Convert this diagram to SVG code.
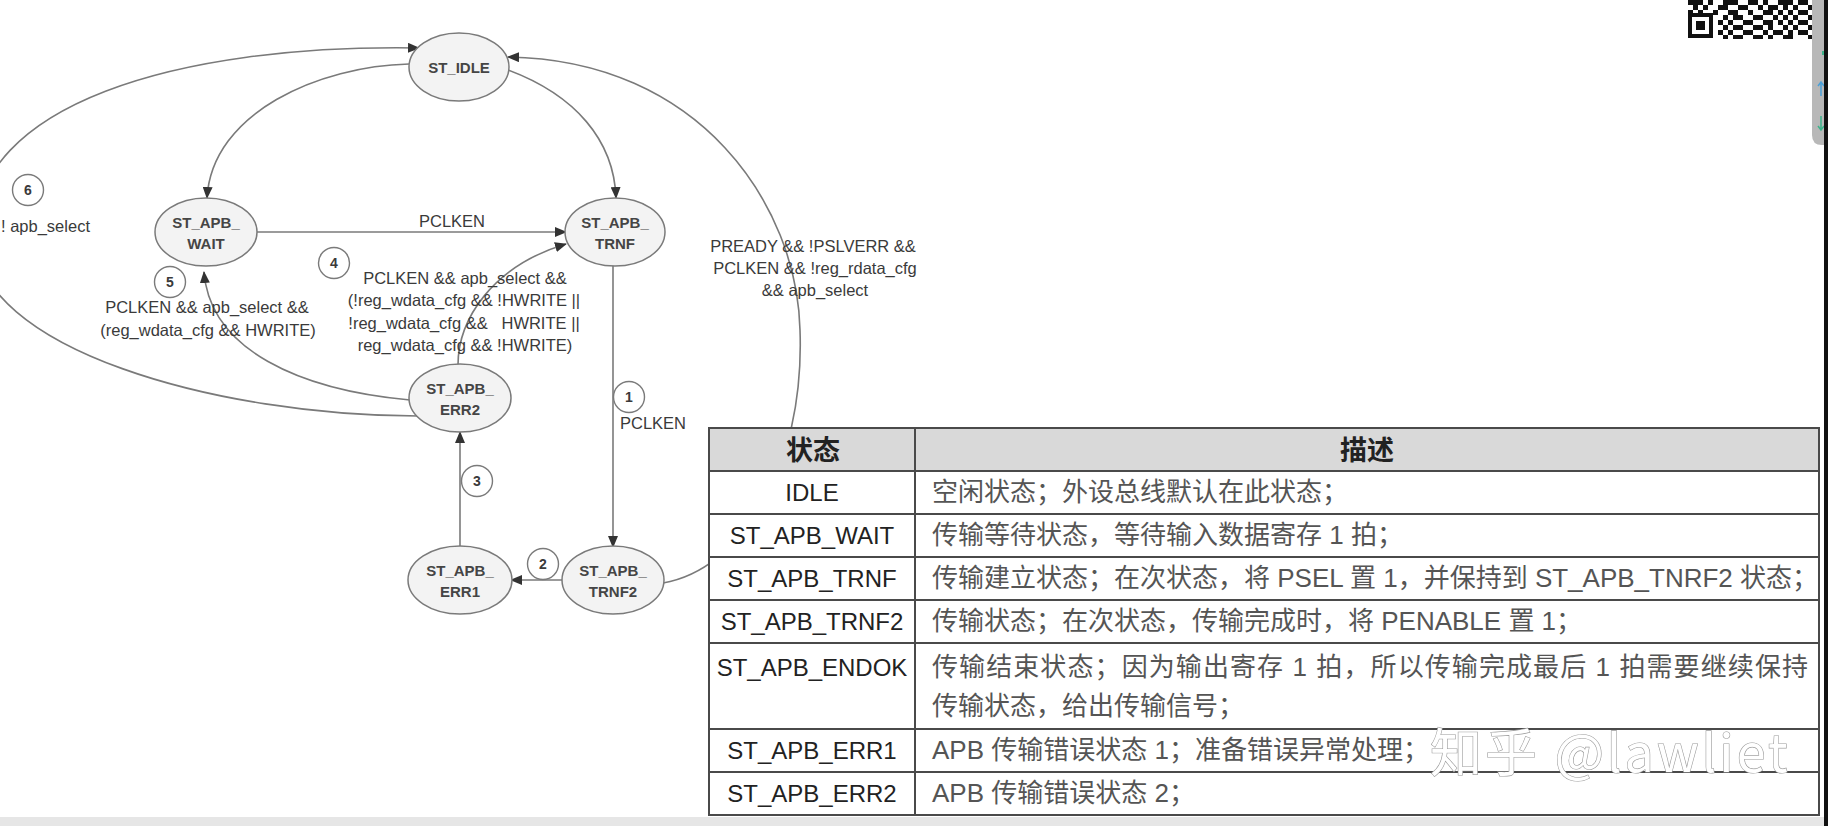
<svg xmlns="http://www.w3.org/2000/svg" width="1828" height="826" viewBox="0 0 1828 826">
<defs>
<marker id="ah" viewBox="0 0 12 10" refX="11" refY="5" markerWidth="12" markerHeight="10" markerUnits="userSpaceOnUse" orient="auto">
<path d="M0,0 L12,5 L0,10 z" fill="#333"/>
</marker>
<style>
.node ellipse{fill:#f3f3f3;stroke:#7a7a7a;stroke-width:1.5}
.nl{font-family:"Liberation Sans",Arial,sans-serif;font-size:15px;font-weight:bold;fill:#454545;text-anchor:middle}
.edge{fill:none;stroke:#7a7a7a;stroke-width:1.6}
.arr{marker-end:url(#ah)}
.lbl{font-family:"Liberation Sans",Arial,sans-serif;font-size:16.5px;fill:#3a3a3a;text-anchor:middle}
.num circle{fill:#fff;stroke:#7a7a7a;stroke-width:1.4}
.num text{font-family:"Liberation Sans",Arial,sans-serif;font-size:14px;font-weight:bold;fill:#3a3a3a;text-anchor:middle}
.tl{fill:none;stroke:#4a4a4a;stroke-width:2}
.c1{font-family:"Liberation Sans",Arial,sans-serif;font-size:24px;fill:#222;text-anchor:middle}
.c2{font-family:"Liberation Sans","Noto Sans CJK SC",sans-serif;font-size:26px;fill:#555}
.hd{font-family:"Noto Sans CJK SC",sans-serif;font-size:27px;font-weight:bold;fill:#222;text-anchor:middle}
.wm{font-family:"Noto Sans CJK SC",sans-serif;font-size:52px;letter-spacing:3px;fill:#fff;stroke:#9a9a9a;stroke-width:1.2;paint-order:stroke}
</style>
</defs>
<rect width="1828" height="826" fill="#fff"/>

<g id="connectors">
<path class="edge arr" d="M409 64 C320 66 212 112 207 198"/>
<path class="edge arr" d="M508 70 C575 95 614 140 616 198"/>
<path class="edge arr" d="M257 232 L566 232"/>
<path class="edge arr" d="M613 265 L613 547"/>
<path class="edge arr" d="M563 580 L511 580"/>
<path class="edge arr" d="M460 547 L460 432"/>
<path class="edge arr" d="M458 365 C458 320 492 266 566 244"/>
<path class="edge arr" d="M410 400 C300 390 210 350 204 272"/>
<path class="edge arr" d="M418 416 C220 416 -25 350 -25 235 C-25 105 175 44 419 48"/>
<path class="edge arr" d="M663 583 C740 570 805 470 800 330 C797 205 700 60 508 57"/>
<text class="lbl" x="452" y="227">PCLKEN</text>
<text class="lbl" x="653" y="429">PCLKEN</text>
<text class="lbl" x="1" y="232" style="text-anchor:start">! apb_select</text>
<text class="lbl" x="207" y="313">PCLKEN &amp;&amp; apb_select &amp;&amp;</text>
<text class="lbl" x="208" y="336">(reg_wdata_cfg &amp;&amp; HWRITE)</text>
<text class="lbl" x="465" y="284">PCLKEN &amp;&amp; apb_select &amp;&amp;</text>
<text class="lbl" x="464" y="306">(!reg_wdata_cfg &amp;&amp; !HWRITE ||</text>
<text class="lbl" x="464" y="329" xml:space="preserve">!reg_wdata_cfg &amp;&amp;   HWRITE ||</text>
<text class="lbl" x="465" y="351">reg_wdata_cfg &amp;&amp; !HWRITE)</text>
<text class="lbl" x="813" y="252">PREADY &amp;&amp; !PSLVERR &amp;&amp;</text>
<text class="lbl" x="815" y="274">PCLKEN &amp;&amp; !reg_rdata_cfg</text>
<text class="lbl" x="815" y="296">&amp;&amp; apb_select</text>
<g class="num"><circle cx="629" cy="397" r="15.5"/><text x="629" y="402">1</text></g>
<g class="num"><circle cx="543" cy="564" r="15.5"/><text x="543" y="569">2</text></g>
<g class="num"><circle cx="477" cy="481" r="15.5"/><text x="477" y="486">3</text></g>
<g class="num"><circle cx="334" cy="263" r="15.5"/><text x="334" y="268">4</text></g>
<g class="num"><circle cx="170" cy="282" r="15.5"/><text x="170" y="287">5</text></g>
<g class="num"><circle cx="28" cy="190" r="15.5"/><text x="28" y="195">6</text></g>
</g>

<g id="st_idle" class="node"><ellipse cx="459" cy="67" rx="50" ry="34"/><text class="nl" x="459" y="72.5">ST_IDLE</text></g>
<g id="st_apb_wait" class="node"><ellipse cx="206" cy="232" rx="51" ry="34"/><text class="nl" x="206" y="228">ST_APB_</text><text class="nl" x="206" y="249">WAIT</text></g>
<g id="st_apb_trnf" class="node"><ellipse cx="615" cy="232" rx="50" ry="34"/><text class="nl" x="615" y="228">ST_APB_</text><text class="nl" x="615" y="249">TRNF</text></g>
<g id="st_apb_err2" class="node"><ellipse cx="460" cy="398" rx="51" ry="34"/><text class="nl" x="460" y="394">ST_APB_</text><text class="nl" x="460" y="415">ERR2</text></g>
<g id="st_apb_err1" class="node"><ellipse cx="460" cy="580" rx="52" ry="34"/><text class="nl" x="460" y="576">ST_APB_</text><text class="nl" x="460" y="597">ERR1</text></g>
<g id="st_apb_trnf2" class="node"><ellipse cx="613" cy="580" rx="51" ry="34"/><text class="nl" x="613" y="576">ST_APB_</text><text class="nl" x="613" y="597">TRNF2</text></g>

<g id="table">
<rect x="709" y="428" width="1110" height="387" fill="#fff"/>
<rect x="709" y="428" width="1110" height="43" fill="#d9d9d9"/>
<rect class="tl" x="709" y="428" width="1110" height="387"/>
<path class="tl" d="M709 471 H1819 M709 514 H1819 M709 557 H1819 M709 600 H1819 M709 643 H1819 M709 729 H1819 M709 772 H1819 M915 428 V815"/>
<text class="hd" x="813" y="460">状态</text>
<text class="hd" x="1367" y="460">描述</text>
<text class="c1" x="812" y="501">IDLE</text>
<text class="c1" x="812" y="544">ST_APB_WAIT</text>
<text class="c1" x="812" y="587">ST_APB_TRNF</text>
<text class="c1" x="812" y="630">ST_APB_TRNF2</text>
<text class="c1" x="812" y="676">ST_APB_ENDOK</text>
<text class="c1" x="812" y="759">ST_APB_ERR1</text>
<text class="c1" x="812" y="802">ST_APB_ERR2</text>
<text class="c2" x="932" y="501">空闲状态；外设总线默认在此状态；</text>
<text class="c2" x="932" y="544">传输等待状态，等待输入数据寄存 1 拍；</text>
<text class="c2" x="932" y="587">传输建立状态；在次状态，将 PSEL 置 1，并保持到 ST_APB_TNRF2 状态；</text>
<text class="c2" x="932" y="630">传输状态；在次状态，传输完成时，将 PENABLE 置 1；</text>
<text class="c2" x="932" y="676" textLength="876" lengthAdjust="spacing">传输结束状态；因为输出寄存 1 拍，所以传输完成最后 1 拍需要继续保持</text>
<text class="c2" x="932" y="715">传输状态，给出传输信号；</text>
<text class="c2" x="932" y="759">APB 传输错误状态 1；准备错误异常处理；</text>
<text class="c2" x="932" y="802">APB 传输错误状态 2；</text>
<text class="wm" x="1430" y="772">知乎 @lawliet</text>
</g>

<g id="screen-edge">
<rect x="0" y="817" width="1828" height="9" fill="#e6e6e6"/>
<path d="M1812 0 H1828 V145 H1822 Q1812 145 1812 135 Z" fill="#b8b8b8"/>
<rect x="1822" y="51" width="6" height="4" fill="#3cb38a"/>
<path d="M1821 82 V96 M1818 86 L1821 82 L1824 86" stroke="#4aa0d8" stroke-width="1.5" fill="none"/>
<path d="M1821 116 V130 M1818 126 L1821 130 L1824 126" stroke="#3cb38a" stroke-width="1.5" fill="none"/>
<rect x="1824" y="0" width="4" height="826" fill="#111"/>
<g id="qr" fill="#111">
<rect x="1688" y="13" width="25" height="25"/>
<rect x="1692" y="17" width="17" height="17" fill="#fff"/>
<rect x="1696" y="21" width="9" height="9"/>
<path d="M1688 0h15v5h-15z M1708 0h5v5h-5z M1723 0h15v5h-15z M1748 0h10v5h-10z M1763 0h5v5h-5z M1778 0h15v5h-15z M1798 0h10v5h-10z
M1693 5h5v5h-5z M1703 5h5v5h-5z M1718 5h10v5h-10z M1738 5h10v5h-10z M1758 5h5v5h-5z M1768 5h10v5h-10z M1783 5h5v5h-5z M1793 5h5v5h-5z M1808 5h4v5h-4z
M1688 10h5v3h-5z M1698 10h5v3h-5z M1713 10h5v5h-5z M1728 10h10v5h-10z M1748 10h5v5h-5z M1763 10h10v5h-10z M1778 10h5v5h-5z M1788 10h5v5h-5z M1798 10h10v5h-10z
M1723 15h5v5h-5z M1733 15h10v5h-10z M1753 15h10v5h-10z M1773 15h5v5h-5z M1783 15h5v5h-5z M1793 15h5v5h-5z M1808 15h4v5h-4z
M1718 20h5v5h-5z M1728 20h5v5h-5z M1743 20h10v5h-10z M1763 20h10v5h-10z M1778 20h5v5h-5z M1788 20h5v5h-5z M1798 20h10v5h-10z
M1723 25h5v5h-5z M1733 25h10v5h-10z M1753 25h10v5h-10z M1768 25h5v5h-5z M1783 25h5v5h-5z M1793 25h5v5h-5z M1808 25h4v5h-4z
M1718 30h5v5h-5z M1728 30h5v5h-5z M1743 30h10v5h-10z M1763 30h5v5h-5z M1773 30h10v5h-10z M1788 30h5v5h-5z M1798 30h10v5h-10z
M1723 35h5v4h-5z M1733 35h10v4h-10z M1753 35h10v4h-10z M1768 35h5v4h-5z M1783 35h10v4h-10z M1808 35h4v4h-4z"/>
</g>
</g>
</svg>
